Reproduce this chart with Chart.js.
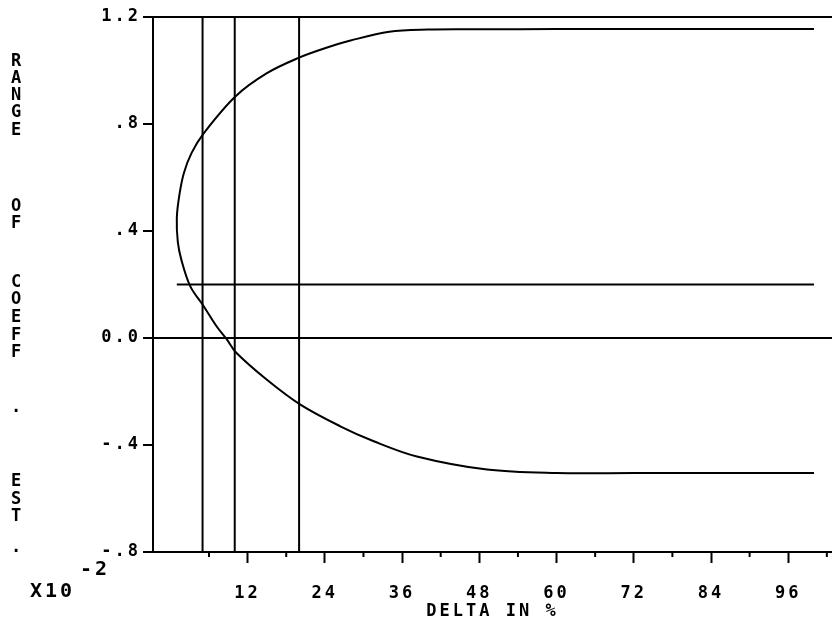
<!DOCTYPE html>
<html>
<head>
<meta charset="utf-8">
<script src="https://cdn.jsdelivr.net/npm/chart.js@4/dist/chart.umd.min.js"></script>
<style>
  body { margin: 0; background: #fff; }
  #wrap { width: 832px; height: 628px; position: relative; }
</style>
</head>
<body>
<div id="wrap"><canvas id="plot"></canvas></div>
<script>
// axis ticks
const xTickValues = [12, 24, 36, 48, 60, 72, 84, 96];
const xMinorTicks = [6, 18, 30, 42, 54, 66, 78, 90, 102];
const yTickValues = [-0.8, -0.4, 0, 0.4, 0.8, 1.2];
const yTickLabels = ['-.8', '-.4', '0.0', '.4', '.8', '1.2'];

// range curve (top branch -> nose -> bottom branch)
const curveX = [100, 60, 48, 40, 34, 28, 24, 20, 15, 10.1, 5.2, 3.3, 2.1, 1.4, 1.0, 1.15, 1.7, 3.1, 5.2, 7.2, 8.8, 10.2, 15, 20.2, 26.4, 31.6, 38.3, 49.2, 60, 72, 100];
const curveY = [1.155, 1.155, 1.154, 1.153, 1.145, 1.112, 1.083, 1.048, 0.99, 0.903, 0.766, 0.692, 0.617, 0.535, 0.449, 0.36, 0.293, 0.193, 0.118, 0.043, -0.006, -0.054, -0.156, -0.249, -0.33, -0.386, -0.443, -0.492, -0.505, -0.505, -0.505];

// reference lines
const vLinesX = [5, 10, 20];
const hLineX = [1, 100];
const hLineY = 0.2;

const xMin = -2.7, xMax = 102.8;
const yMin = -0.8, yMax = 1.2;

const labelFont = { family: 'DejaVu Sans Mono', size: 17, weight: 'bold' };

const datasets = [];
datasets.push({
    data: curveX.map((x, i) => ({ x: x, y: curveY[i] })),
    tension: 0.35
});
vLinesX.forEach(v => {
    datasets.push({ data: [{ x: v, y: yMin }, { x: v, y: yMax }] });
});
datasets.push({ data: hLineX.map(x => ({ x: x, y: hLineY })) });
datasets.forEach(d => {
    d.showLine = true;
    d.borderColor = '#000';
    d.borderWidth = 2;
    d.pointRadius = 0;
    d.fill = false;
});

// short minor ticks, y title letters and the x10 multiplier
const extras = {
    id: 'extras',
    beforeDraw(chart) {
        chart.ctx.letterSpacing = '3px';
    },
    afterDraw(chart) {
        const ctx = chart.ctx;
        const xs = chart.scales.x;
        const bottom = chart.chartArea.bottom;
        ctx.save();
        ctx.strokeStyle = '#000';
        ctx.lineWidth = 2;
        xMinorTicks.forEach(v => {
            const px = xs.getPixelForValue(v);
            if (px > 832) return;
            ctx.beginPath();
            ctx.moveTo(px, bottom);
            ctx.lineTo(px, bottom + 5);
            ctx.stroke();
        });

        ctx.fillStyle = '#000';
        ctx.font = 'bold 17px "DejaVu Sans Mono"';
        ctx.textAlign = 'center';
        ctx.textBaseline = 'middle';
        ctx.letterSpacing = '0px';
        const letters = [
            ['R', 62], ['A', 79], ['N', 96], ['G', 113], ['E', 131],
            ['O', 207], ['F', 224],
            ['C', 283], ['O', 300], ['E', 318], ['F', 336], ['F', 353], ['.', 408],
            ['E', 482], ['S', 500], ['T', 517], ['.', 548]
        ];
        letters.forEach(l => ctx.fillText(l[0], 16, l[1]));

        ctx.textAlign = 'left';
        ctx.font = 'bold 20px "DejaVu Sans Mono"';
        ctx.letterSpacing = '3px';
        ctx.fillText('X10', 30, 592);
        ctx.fillText('-2', 80, 570);
        ctx.restore();
    }
};

new Chart(document.getElementById('plot'), {
    type: 'scatter',
    data: { datasets: datasets },
    options: {
        responsive: true,
        maintainAspectRatio: false,
        animation: false,
        layout: { padding: { top: 17, right: 0, left: 0, bottom: 0 } },
        plugins: { legend: { display: false }, tooltip: { enabled: false } },
        scales: {
            x: {
                type: 'linear',
                position: 'bottom',
                min: xMin,
                max: xMax,
                afterBuildTicks: s => { s.ticks = xTickValues.map(v => ({ value: v })); },
                afterFit: s => { s.height = 76; },
                border: { color: '#000', width: 2 },
                grid: { drawOnChartArea: false, color: '#000', tickColor: '#000', tickLength: 11, tickWidth: 2 },
                ticks: {
                    color: '#000',
                    font: labelFont,
                    padding: 20,
                    maxRotation: 0,
                    autoSkip: false,
                    callback: v => String(v)
                },
                title: {
                    display: true,
                    text: 'DELTA IN %',
                    color: '#000',
                    font: labelFont,
                    padding: { top: 0, bottom: 6 }
                }
            },
            y: {
                type: 'linear',
                min: yMin,
                max: yMax,
                afterBuildTicks: s => { s.ticks = yTickValues.map(v => ({ value: v })); },
                afterFit: s => { s.width = 153; },
                border: { color: '#000', width: 2 },
                grid: {
                    color: c => (c.tick && (c.tick.value === 0 || c.tick.value === 1.2)) ? '#000' : 'rgba(0,0,0,0)',
                    tickColor: '#000',
                    tickLength: 10,
                    lineWidth: 2
                },
                ticks: {
                    color: '#000',
                    font: labelFont,
                    padding: 2,
                    autoSkip: false,
                    callback: (v, i) => yTickLabels[i]
                }
            }
        }
    },
    plugins: [extras]
});
</script>
</body>
</html>
